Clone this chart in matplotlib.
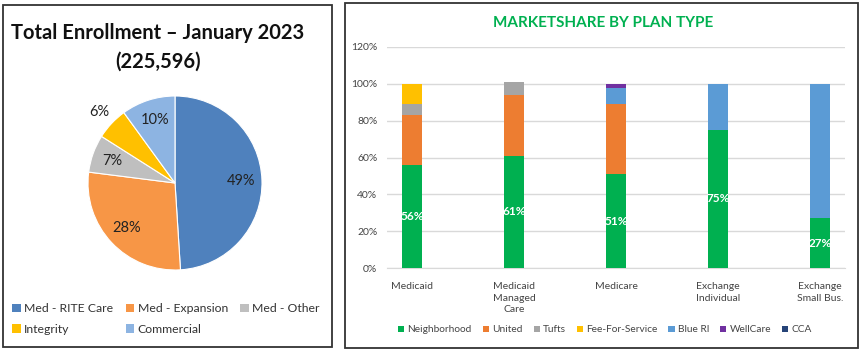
import matplotlib
matplotlib.use("Agg")
import matplotlib.pyplot as plt
from matplotlib.patches import Rectangle, Patch
import numpy as np

plt.rcParams['font.family'] = ['Lato', 'DejaVu Sans']

# ---- Pie data ----
pie_labels = ["Med - RITE Care", "Med - Expansion", "Med - Other", "Integrity", "Commercial"]
pie_values = [49, 28, 7, 6, 10]
pie_colors = ["#4f81bd", "#f79646", "#bfbfbf", "#ffc000", "#8db4e2"]

# ---- Bar data ----
categories = ["Medicaid", "Medicaid\nManaged\nCare", "Medicare", "Exchange\nIndividual", "Exchange\nSmall Bus."]
series_names = ["Neighborhood", "United", "Tufts", "Fee-For-Service", "Blue RI", "WellCare", "CCA"]
neighborhood = [56, 61, 51, 75, 27]
united = [27, 33, 38, 0, 0]
tufts = [6, 7, 0, 0, 0]
ffs = [11, 0, 0, 0, 0]
blue_ri = [0, 0, 9, 25, 73]
wellcare = [0, 0, 2, 0, 0]
cca = [0, 0, 0, 0, 0]
series_colors = ["#00b050", "#ed7d31", "#a5a5a5", "#ffc000", "#5b9bd5", "#7030a0", "#264478"]
yticks = [0, 20, 40, 60, 80, 100, 120]

W, H = 865, 351
fig = plt.figure(figsize=(W / 100, H / 100), dpi=100)

def px_axes(x0, y0, x1, y1):
    return fig.add_axes([x0 / W, 1 - y1 / H, (x1 - x0) / W, (y1 - y0) / H])

# panel borders
for (x0, y0, x1, y1) in [(3, 5, 332, 347), (345, 3, 858, 348)]:
    fig.patches.append(Rectangle((x0 / W, 1 - y1 / H), (x1 - x0) / W, (y1 - y0) / H,
                                 transform=fig.transFigure, fill=False,
                                 edgecolor="#333333", linewidth=1.3))

# ---- Pie ----
cx, cy, r = 175, 183, 87
axp = px_axes(cx - r, cy - r, cx + r, cy + r)
wedges, texts, autotexts = axp.pie(pie_values, colors=pie_colors, startangle=90, counterclock=False,
                                   autopct=lambda p: f"{p:.0f}%", pctdistance=0.76,
                                   wedgeprops=dict(edgecolor="white", linewidth=0.8),
                                   textprops=dict(fontsize=10.5, color="#222222"))
# Integrity label sits outside
t = autotexts[3]
x, y = t.get_position()
t.set_position((x * 1.2 / 0.76, y * 1.2 / 0.76))
axp.set_xlim(-1, 1)
axp.set_ylim(-1, 1)
axp.set_aspect("equal")
axp.axis("off")

fig.text(158 / W, 1 - 33 / H, "Total Enrollment – January 2023", ha="center", va="center",
         fontsize=14.5, fontweight="bold", color="#111111")
fig.text(158 / W, 1 - 62 / H, "(225,596)", ha="center", va="center",
         fontsize=14.5, fontweight="bold", color="#111111")

order = [0, 3, 1, 4, 2]  # row-major layout in a 3-column legend
handles = [Patch(facecolor=pie_colors[i], edgecolor="none") for i in order]
fig.legend(handles, [pie_labels[i] for i in order], loc="center",
           bbox_to_anchor=(166 / W, 1 - 319 / H),
           ncol=3, frameon=False, fontsize=8.8, handlelength=0.7, handleheight=0.7,
           handletextpad=0.3, columnspacing=1.0, labelspacing=0.75, labelcolor="#333333")

# ---- Bars ----
axb = px_axes(387, 47, 845, 268)
xs = np.arange(len(categories))
series = [neighborhood, united, tufts, ffs, blue_ri, wellcare, cca]
bottom = np.zeros(len(categories))
for name, vals, col in zip(series_names, series, series_colors):
    vals = np.array(vals, dtype=float)
    axb.bar(xs, vals, 0.2, bottom=bottom, color=col, label=name, zorder=3)
    bottom += vals
for xi, v in zip(xs, neighborhood):
    axb.text(xi, v / 2, f"{v}%", ha="center", va="center", color="white",
             fontsize=8.5, fontweight="bold", zorder=4)
axb.set_xlim(-0.245, 4.245)
axb.set_ylim(0, 120)
axb.set_yticks(yticks)
axb.set_yticklabels([f"{v}%" for v in yticks], fontsize=7.5, color="#444444")
axb.set_xticks(xs)
axb.set_xticklabels(categories, fontsize=7.5, color="#444444", linespacing=1.4,
                    multialignment="center")
axb.tick_params(axis="x", length=0, pad=10)
axb.tick_params(axis="y", length=0, pad=7)
axb.grid(axis="y", color="#d9d9d9", linewidth=1, zorder=0)
for s in ["top", "right", "left"]:
    axb.spines[s].set_visible(False)
axb.spines["bottom"].set_color("#d9d9d9")
fig.text(603 / W, 1 - 23 / H, "MARKETSHARE BY PLAN TYPE", ha="center", va="center",
         fontsize=11, fontweight="bold", color="#00b050")
bh = [Patch(facecolor=c, edgecolor="none") for c in series_colors]
fig.legend(bh, series_names, loc="center", bbox_to_anchor=(605 / W, 1 - 330 / H),
           ncol=7, frameon=False, fontsize=7.3, handlelength=0.6, handleheight=0.6,
           handletextpad=0.3, columnspacing=1.1, labelcolor="#444444")

fig.savefig("out.png", dpi=100)
